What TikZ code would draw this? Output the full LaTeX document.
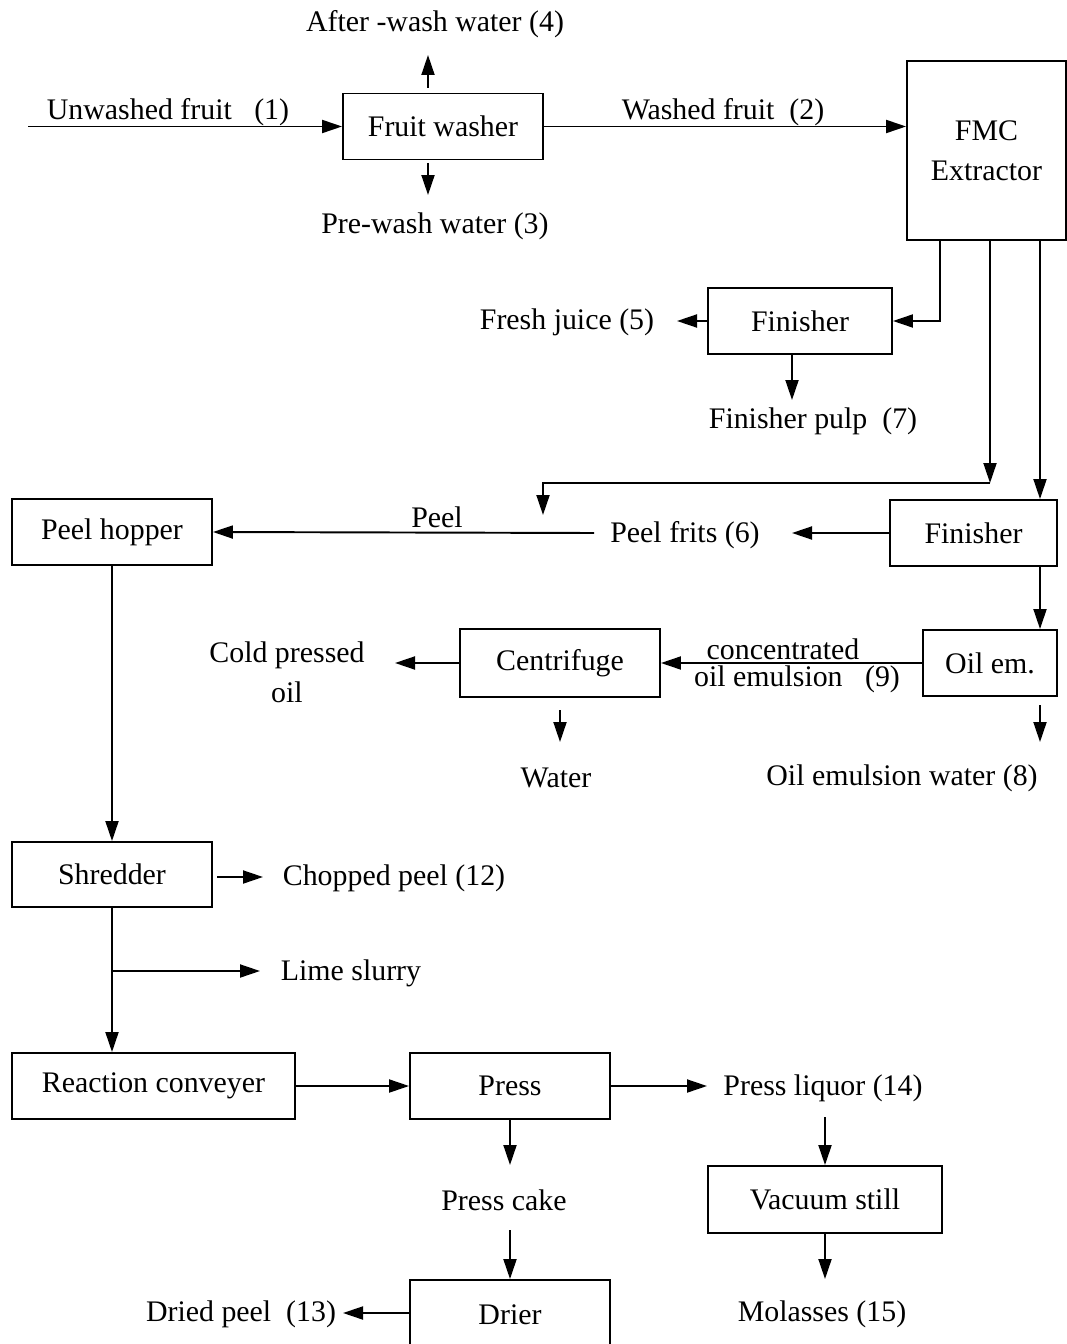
\documentclass[tikz,border=0pt]{standalone}
\usepackage{fontspec}
\setmainfont{Liberation Serif}
\usetikzlibrary{arrows.meta,positioning}

\begin{document}
\begin{tikzpicture}[
  x=0.02cm, y=-0.02cm,
  every node/.style={font=\fontsize{17}{22.5}\selectfont, inner sep=0pt},
  unit/.style={draw, line width=1.1pt, minimum width=4cm, minimum height=1.32cm},
  stream/.style={align=center},
  flow/.style={line width=1.1pt, -{Triangle[length=0.4cm,width=0.26cm]}},
  pipe/.style={line width=1.1pt}
  ]
  \useasboundingbox (0,0) rectangle (1067,1344);

  % washing and extraction
  \node[unit] (washer) at (443,126.5) {Fruit washer};
  \node[unit, minimum width=3.18cm, minimum height=3.58cm, align=center]
    (fmc) at (986.5,150.5) {FMC\\Extractor};
  \node[stream] (unwashed) at (168,112) {Unwashed fruit\ \ \ (1)};
  \node[stream] (washed) at (723,112) {Washed fruit\ \ (2)};
  \node[stream] (afterwash) at (435,24) {After -wash water (4)};
  \node[stream] (prewash) at (435,226) {Pre-wash water (3)};
  \coordinate (uw) at (28,126.5);
  \coordinate (aw1) at (428,88);
  \coordinate (aw2) at (428,55);
  \coordinate (pw1) at (428,163);
  \coordinate (pw2) at (428,195);
  \draw[flow] (uw) -- (washer.west);
  \draw[flow] (washer.east) -- (washer.east -| fmc.west);
  \draw[flow] (aw1) -- (aw2);
  \draw[flow] (pw1) -- (pw2);

  % juice finisher
  \node[unit, minimum width=3.68cm] (fin1) at (800,321) {Finisher};
  \node[stream] (juice) at (567,322) {Fresh juice (5)};
  \node[stream] (pulp) at (813,421) {Finisher pulp\ \ (7)};
  \coordinate (ex1) at (940,240);
  \coordinate (ex2) at (990,240);
  \coordinate (ex3) at (1040,240);
  \coordinate (fj) at (677,321);
  \coordinate (pp) at (792,400);
  \draw[flow] (ex1) |- (fin1.east);
  \draw[flow] (fin1.west) -- (fj);
  \draw[flow] (fin1.south -| pp) -- (pp);

  % peel line
  \node[unit, minimum width=3.34cm] (fin2) at (973.5,533) {Finisher};
  \node[unit] (hopper) at (112,532) {Peel hopper};
  \node[stream] (frits) at (685,535) {Peel frits (6)};
  \node[stream] (peel) at (437,517) {Peel};
  \coordinate (pk) at (990,483);
  \coordinate (pf) at (543,515);
  \coordinate (pfr) at (792,533);
  \coordinate (pl) at (594,533);
  \draw[flow] (ex2) -- (pk);
  \draw[flow] (pk) -| (pf);
  \draw[flow] (ex3) -- (ex3 |- fin2.north);
  \draw[flow] (fin2.west) -- (pfr);
  \draw[flow] (pl) -- (hopper.east);

  % oil recovery
  \node[unit, minimum width=2.68cm] (oilem) at (990,663) {Oil em.};
  \node[unit, minimum height=1.36cm] (centrifuge) at (560,663) {Centrifuge};
  \node[stream] (coldoil) at (287,672.5) {Cold pressed\\oil};
  \node[stream] (conc) at (783,649) {concentrated};
  \node[stream] (emul) at (797,679) {oil emulsion\ \ \ (9)};
  \node[stream] (water) at (556,778) {Water};
  \node[stream] (emwater) at (902,778) {Oil emulsion water (8)};
  \coordinate (co) at (395,663);
  \coordinate (cw1) at (560,710);
  \coordinate (cw2) at (560,742);
  \coordinate (ew1) at (1040,705);
  \coordinate (ew2) at (1040,742);
  \draw[flow] (ex3 |- fin2.south) -- (ex3 |- oilem.north);
  \draw[flow] (oilem.west) -- (centrifuge.east);
  \draw[flow] (centrifuge.west) -- (co);
  \draw[flow] (cw1) -- (cw2);
  \draw[flow] (ew1) -- (ew2);

  % shredding and liming
  \node[unit, minimum height=1.3cm] (shredder) at (112,874.5) {Shredder};
  \node[unit, minimum width=5.66cm] (conveyer) at (153.5,1086) {Reaction conveyer};
  \node[stream] (chopped) at (394,878) {Chopped peel (12)};
  \node[stream] (lime) at (351,973) {Lime slurry};
  \coordinate (cp1) at (217,877);
  \coordinate (cp2) at (263,877);
  \coordinate (ls1) at (112,971);
  \coordinate (ls2) at (260,971);
  \draw[flow] (hopper.south) -- (shredder.north);
  \draw[flow] (cp1) -- (cp2);
  \draw[flow] (shredder.south) -- (shredder.south |- conveyer.north);
  \draw[flow] (ls1) -- (ls2);

  % pressing, drying, molasses
  \node[unit] (press) at (510,1086) {Press};
  \node[unit, minimum width=4.68cm, minimum height=1.34cm] (vacuum) at (825,1199.5) {Vacuum still};
  \node[unit, minimum height=1.4cm] (drier) at (510,1315) {Drier};
  \node[stream] (liquor) at (823,1088) {Press liquor (14)};
  \node[stream] (cake) at (504,1200) {Press cake};
  \node[stream] (molasses) at (822,1314) {Molasses (15)};
  \node[stream] (dried) at (241,1314) {Dried peel\ \ (13)};
  \coordinate (pq) at (707,1086);
  \coordinate (lq) at (825,1117);
  \coordinate (ml) at (825,1279);
  \coordinate (pc1) at (510,1165);
  \coordinate (pc2) at (510,1230);
  \coordinate (dp) at (343,1313);
  \draw[flow] (conveyer.east) -- (press.west);
  \draw[flow] (press.east) -- (pq);
  \draw[flow] (lq) -- (vacuum.north);
  \draw[flow] (vacuum.south) -- (ml);
  \draw[flow] (press.south) -- (pc1);
  \draw[flow] (pc2) -- (drier.north);
  \draw[flow] (drier.west |- dp) -- (dp);
\end{tikzpicture}
\end{document}
